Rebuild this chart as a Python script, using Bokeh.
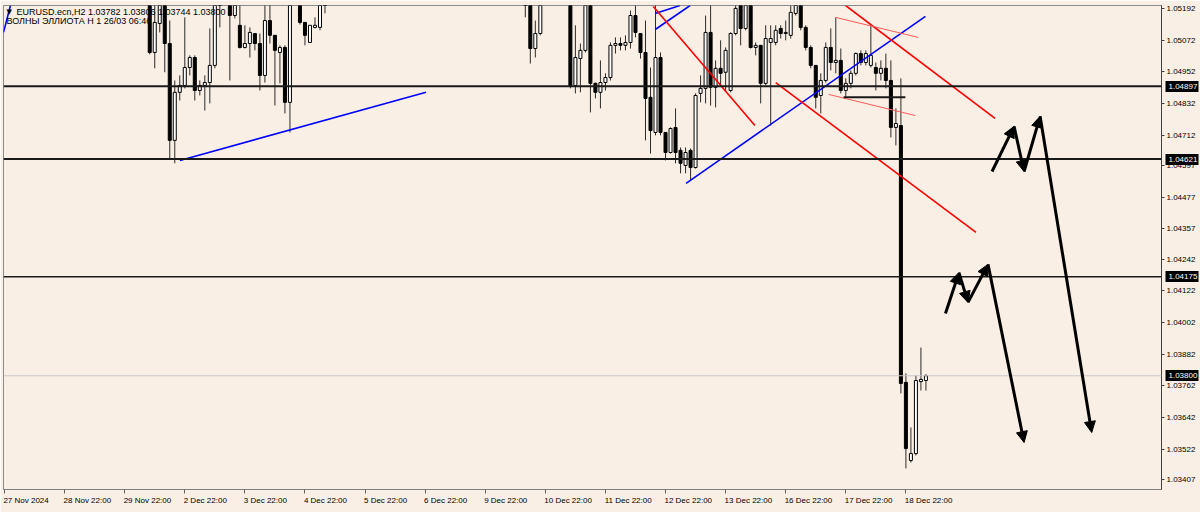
from bokeh.plotting import figure
from bokeh.models import (Range1d, LinearAxis, FixedTicker, Span, Label, Arrow,
                          NormalHead, ColumnDataSource, PrintfTickFormatter)
from bokeh.embed import file_html
from bokeh.resources import INLINE

# ---------------- data (EURUSD H2) ----------------
bar_index = (list(range(29, 44)) + list(range(45, 58)) + list(range(59, 65))
             + list(range(104, 108)) + list(range(113, 185)))

open_ = [
    1.05222, 1.05025, 1.05135, 1.05222, 1.05059, 1.04692, 1.04874, 1.04900, 1.04968, 1.05006, 1.04881, 1.04900, 1.04911, 1.04976, 1.05237,
    1.05222, 1.05165, 1.05128, 1.05044, 1.05059, 1.05097, 1.05059, 1.04938, 1.05146, 1.05090, 1.05025, 1.05044, 1.04836,
    1.05222, 1.05139, 1.05063, 1.05120, 1.05120, 1.05237,
    1.05237, 1.05222, 1.05040, 1.05097,
    1.05222, 1.04900, 1.05002, 1.05033, 1.05222, 1.04908, 1.04874, 1.04911, 1.04930, 1.05052,
    1.05059, 1.05052, 1.05063, 1.05165, 1.05097, 1.05025, 1.04855, 1.04722, 1.05006, 1.04722,
    1.04646, 1.04741, 1.04654, 1.04597, 1.04654, 1.04589, 1.04870, 1.04889, 1.05101, 1.04893,
    1.04965, 1.04950, 1.04881, 1.05097, 1.05222, 1.05116, 1.05222, 1.05044, 1.05052, 1.04908,
    1.05063, 1.05063, 1.05116, 1.05097, 1.05090, 1.05173, 1.05222, 1.05120, 1.05044, 1.04976,
    1.04862, 1.04919, 1.05044, 1.04987, 1.04995, 1.04881, 1.04908, 1.04946, 1.05021, 1.04987,
    1.04976, 1.04968, 1.04946, 1.04965, 1.04919, 1.04741, 1.04748, 1.03775, 1.03479, 1.03505,
    1.03778, 1.03782,
]
high = [
    1.05241, 1.05234, 1.05234, 1.05234, 1.05146, 1.04919, 1.04938, 1.05158, 1.05014, 1.05014, 1.04919, 1.04938, 1.05116, 1.05234, 1.05253,
    1.05234, 1.05234, 1.05234, 1.05128, 1.05120, 1.05097, 1.05097, 1.05234, 1.05234, 1.05090, 1.05052, 1.05052, 1.05234,
    1.05234, 1.05139, 1.05128, 1.05158, 1.05234, 1.05253,
    1.05253, 1.05234, 1.05146, 1.05234,
    1.05234, 1.05128, 1.05059, 1.05234, 1.05234, 1.04911, 1.04995, 1.04946, 1.05063, 1.05082,
    1.05082, 1.05090, 1.05184, 1.05234, 1.05097, 1.05146, 1.04968, 1.05234, 1.05025, 1.04722,
    1.04741, 1.04813, 1.04665, 1.04665, 1.04661, 1.04870, 1.04938, 1.05165, 1.05234, 1.04995,
    1.05071, 1.05044, 1.05101, 1.05234, 1.05234, 1.05234, 1.05234, 1.05063, 1.05052, 1.05128,
    1.05128, 1.05128, 1.05128, 1.05146, 1.05203, 1.05234, 1.05234, 1.05128, 1.05052, 1.04976,
    1.04946, 1.05063, 1.05116, 1.05158, 1.05040, 1.04927, 1.04957, 1.05025, 1.05033, 1.05033,
    1.05128, 1.04987, 1.04995, 1.05021, 1.04995, 1.04813, 1.04927, 1.03809, 1.03604, 1.03801,
    1.03907, 1.03806,
]
low = [
    1.05018, 1.04965, 1.05101, 1.04950, 1.04623, 1.04605, 1.04843, 1.04889, 1.04938, 1.04843, 1.04862, 1.04805, 1.04832, 1.04965, 1.05120,
    1.04919, 1.05154, 1.05040, 1.05040, 1.05006, 1.05033, 1.04881, 1.04911, 1.05059, 1.04824, 1.04908, 1.04794, 1.04722,
    1.05131, 1.05052, 1.05063, 1.05116, 1.05109, 1.05173,
    1.05158, 1.04983, 1.05006, 1.05090,
    1.04889, 1.04870, 1.04874, 1.05025, 1.04798, 1.04851, 1.04813, 1.04881, 1.04919, 1.05021,
    1.05033, 1.05033, 1.05040, 1.05082, 1.05002, 1.04692, 1.04642, 1.04711, 1.04711, 1.04616,
    1.04642, 1.04605, 1.04567, 1.04567, 1.04540, 1.04585, 1.04836, 1.04832, 1.04824, 1.04817,
    1.04900, 1.04881, 1.04874, 1.05090, 1.05052, 1.05109, 1.05040, 1.05014, 1.04832, 1.04900,
    1.04748, 1.05052, 1.05078, 1.05071, 1.05078, 1.05165, 1.05109, 1.05033, 1.04965, 1.04813,
    1.04794, 1.04911, 1.04957, 1.04946, 1.04870, 1.04855, 1.04889, 1.04938, 1.04976, 1.04976,
    1.04968, 1.04881, 1.04919, 1.04889, 1.04703, 1.04673, 1.03733, 1.03449, 1.03471, 1.03498,
    1.03744, 1.03744,
]
close = [
    1.05025, 1.05139, 1.05222, 1.05059, 1.04692, 1.04874, 1.04900, 1.04968, 1.05006, 1.04881, 1.04900, 1.04911, 1.04976, 1.05222, 1.05215,
    1.05165, 1.05222, 1.05044, 1.05059, 1.05101, 1.05059, 1.04938, 1.05146, 1.05090, 1.05033, 1.05044, 1.04836, 1.05222,
    1.05139, 1.05090, 1.05128, 1.05128, 1.05222, 1.05215,
    1.05215, 1.05040, 1.05097, 1.05222,
    1.04900, 1.05006, 1.05033, 1.05222, 1.04908, 1.04874, 1.04911, 1.04930, 1.05052, 1.05059,
    1.05052, 1.05063, 1.05165, 1.05101, 1.05025, 1.04851, 1.04729, 1.05006, 1.04722, 1.04646,
    1.04737, 1.04646, 1.04605, 1.04646, 1.04589, 1.04862, 1.04889, 1.05101, 1.04893, 1.04965,
    1.04946, 1.05033, 1.05097, 1.05192, 1.05116, 1.05222, 1.05044, 1.05052, 1.04908, 1.05078,
    1.05078, 1.05109, 1.05097, 1.05101, 1.05177, 1.05222, 1.05120, 1.05044, 1.04976, 1.04855,
    1.04919, 1.05044, 1.04987, 1.04995, 1.04881, 1.04908, 1.04946, 1.05021, 1.04987, 1.05021,
    1.05014, 1.04946, 1.04965, 1.04919, 1.04741, 1.04756, 1.03771, 1.03524, 1.03505, 1.03782,
    1.03786, 1.03800,
]

price_ticks = [1.05192, 1.05072, 1.04952, 1.04832, 1.04712, 1.04597, 1.04477, 1.04357,
               1.04242, 1.04122, 1.04002, 1.03882, 1.03762, 1.03642, 1.03522, 1.03407]
level_prices = [1.04897, 1.04621, 1.04175]
level_widths = [2, 2, 1.5]
current_price = 1.03800

date_tick_bars = [0, 12, 24, 36, 48, 60, 72, 84, 96, 108, 120, 132, 144, 156, 168, 180]
date_tick_labels = ["27 Nov 2024", "28 Nov 22:00", "29 Nov 22:00", "2 Dec 22:00", "3 Dec 22:00",
                    "4 Dec 22:00", "5 Dec 22:00", "6 Dec 22:00", "9 Dec 22:00", "10 Dec 22:00",
                    "11 Dec 22:00", "12 Dec 22:00", "13 Dec 22:00", "16 Dec 22:00",
                    "17 Dec 22:00", "18 Dec 22:00"]

# drawn objects (bar index, price)
blue_x0 = [35.02, -0.2, 136.1, 129.95, 129.95]
blue_y0 = [1.04616, 1.05101, 1.04529, 1.05173, 1.05112]
blue_x1 = [84.18, 1.19, 183.9, 134.9, 136.9]
blue_y1 = [1.04874, 1.05203, 1.05162, 1.05203, 1.05203]

red_x0 = [129.55, 154.0, 167.96]
red_y0 = [1.05199, 1.04911, 1.05203]
red_x1 = [149.85, 194.0, 197.8]
red_y1 = [1.04748, 1.04343, 1.04775]

thin_red_x0 = [165.97, 164.58]
thin_red_y0 = [1.05158, 1.04866]
thin_red_x1 = [182.49, 181.9]
thin_red_y1 = [1.05082, 1.04786]

black_seg_x0 = [167.56]
black_seg_x1 = [179.9]
black_seg_y = [1.04855]

wave_a_bar = [197.2, 201.6, 203.6, 206.8, 217.1]
wave_a_price = [1.04574, 1.04745, 1.04574, 1.04783, 1.03585]
wave_b_bar = [187.9, 190.6, 192.4, 196.4, 203.6]
wave_b_price = [1.04036, 1.04191, 1.04078, 1.04222, 1.03547]

header_line1 = "EURUSD.ecn,H2  1.03782 1.03806 1.03744 1.03800"
header_line2 = "ВОЛНЫ ЭЛЛИОТА H 1 26/03 06:46"

# ---------------- styling ----------------
BG = "#f9efe4"
FONT = "Liberation Sans"
FS = "8px"
PX_PER_BAR = 5.025

p = figure(width=1200, height=512,
           x_range=Range1d(-0.2, 231.04), y_range=Range1d(1.03369, 1.05203),
           output_backend="svg", toolbar_location=None,
           x_axis_location=None, y_axis_location=None,
           min_border_left=3, min_border_top=5, min_border_right=35, min_border_bottom=23,
           background_fill_color=BG, border_fill_color=BG,
           outline_line_color="#8c8c8c")
p.grid.grid_line_color = None

# right price scale
yax = LinearAxis(ticker=FixedTicker(ticks=price_ticks),
                 formatter=PrintfTickFormatter(format="%.5f"),
                 major_tick_out=3, major_tick_in=0, minor_tick_out=0, minor_tick_in=0,
                 major_label_standoff=2, axis_line_color="#404040",
                 major_tick_line_color="#404040",
                 major_label_text_font=FONT, major_label_text_font_size=FS,
                 major_label_text_color="#000000")
p.add_layout(yax, "right")

# highlighted prices (black boxes drawn as wide inward ticks, white labels on top)
hl_prices = level_prices + [current_price]
hax = LinearAxis(ticker=FixedTicker(ticks=hl_prices),
                 formatter=PrintfTickFormatter(format="%.5f"),
                 major_tick_out=0, major_tick_in=33, minor_tick_out=0, minor_tick_in=0,
                 major_tick_line_width=11, major_tick_line_color="#000000",
                 major_tick_line_cap="butt",
                 major_label_standoff=-30, axis_line_color=None,
                 major_label_text_font=FONT, major_label_text_font_size=FS,
                 major_label_text_color="#ffffff")
p.add_layout(hax, "right")

# bottom time scale: tick marks at the bars ...
xax = LinearAxis(ticker=FixedTicker(ticks=date_tick_bars),
                 major_tick_out=4, major_tick_in=0, minor_tick_out=0, minor_tick_in=0,
                 axis_line_color="#808080", major_tick_line_color="#606060",
                 major_label_standoff=0,
                 major_label_text_font_size="1px", major_label_text_alpha=0)
p.add_layout(xax, "below")


# ... and labels that start at the tick (MT4 style, left aligned)
def text_width_px(s, size=8.0):
    w = {" ": 278, ":": 278, ".": 278, "N": 722, "o": 556, "v": 500, "D": 722, "e": 556, "c": 500}
    return sum(w.get(ch, 556) for ch in s) * size / 1000.0


label_pos = [round(b + (text_width_px(t) / 2 - 1) / PX_PER_BAR, 2)
             for b, t in zip(date_tick_bars, date_tick_labels)]
lax = LinearAxis(ticker=FixedTicker(ticks=label_pos),
                 major_label_overrides={pos: t for pos, t in zip(label_pos, date_tick_labels)},
                 major_tick_out=0, major_tick_in=0, minor_tick_out=0, minor_tick_in=0,
                 axis_line_color=None, major_label_standoff=2,
                 major_label_text_font=FONT, major_label_text_font_size=FS,
                 major_label_text_color="#000000")
p.add_layout(lax, "below")

# current price line
p.add_layout(Span(location=current_price, dimension="width", line_color="#c8c8c8", line_width=1))

# candles
top = [max(o, c) for o, c in zip(open_, close)]
bottom = [min(o, c) for o, c in zip(open_, close)]
fill = ["#ffffff" if c >= o else "#000000" for o, c in zip(open_, close)]
src = ColumnDataSource(dict(x=bar_index, high=high, low=low, top=top, bottom=bottom, fill=fill))
p.segment(x0="x", y0="low", x1="x", y1="high", source=src, line_color="#2b2b2b", line_width=1)
p.vbar(x="x", width=0.6, top="top", bottom="bottom", source=src,
       fill_color="fill", line_color="#000000", line_width=1)

# horizontal levels
for lv, w in zip(level_prices, level_widths):
    p.add_layout(Span(location=lv, dimension="width", line_color="#1a1a1a", line_width=w))

# trend lines
p.segment(blue_x0, blue_y0, blue_x1, blue_y1, line_color="#0000ff", line_width=1.6)
p.segment(red_x0, red_y0, red_x1, red_y1, line_color="#ff0000", line_width=1.6)
p.segment(thin_red_x0, thin_red_y0, thin_red_x1, thin_red_y1, line_color="#ff5a5a", line_width=1)
p.segment(black_seg_x0, black_seg_y, black_seg_x1, black_seg_y, line_color="#1a1a1a", line_width=2)

# wave arrows
for bars, prices in ((wave_a_bar, wave_a_price), (wave_b_bar, wave_b_price)):
    asrc = ColumnDataSource(dict(x0=bars[:-1], y0=prices[:-1], x1=bars[1:], y1=prices[1:]))
    p.add_layout(Arrow(x_start="x0", y_start="y0", x_end="x1", y_end="y1", source=asrc,
                       line_color="#000000", line_width=3,
                       end=NormalHead(size=11, fill_color="#000000", line_color="#000000",
                                      line_width=1)))

# header
p.add_layout(Label(x=0.4, y=1.05178, text="▼", text_font="DejaVu Sans", text_font_size="7px",
                   text_baseline="middle", text_align="left", text_color="#000000"))
p.add_layout(Label(x=2.39, y=1.05177, text=header_line1, text_font=FONT, text_font_size="9px",
                   text_baseline="middle", text_align="left", text_color="#000000"))
p.add_layout(Label(x=0.4, y=1.05143, text=header_line2, text_font=FONT, text_font_size="9px",
                   text_baseline="middle", text_align="left", text_color="#000000"))

open("out.html", "w").write(file_html(p, INLINE))
